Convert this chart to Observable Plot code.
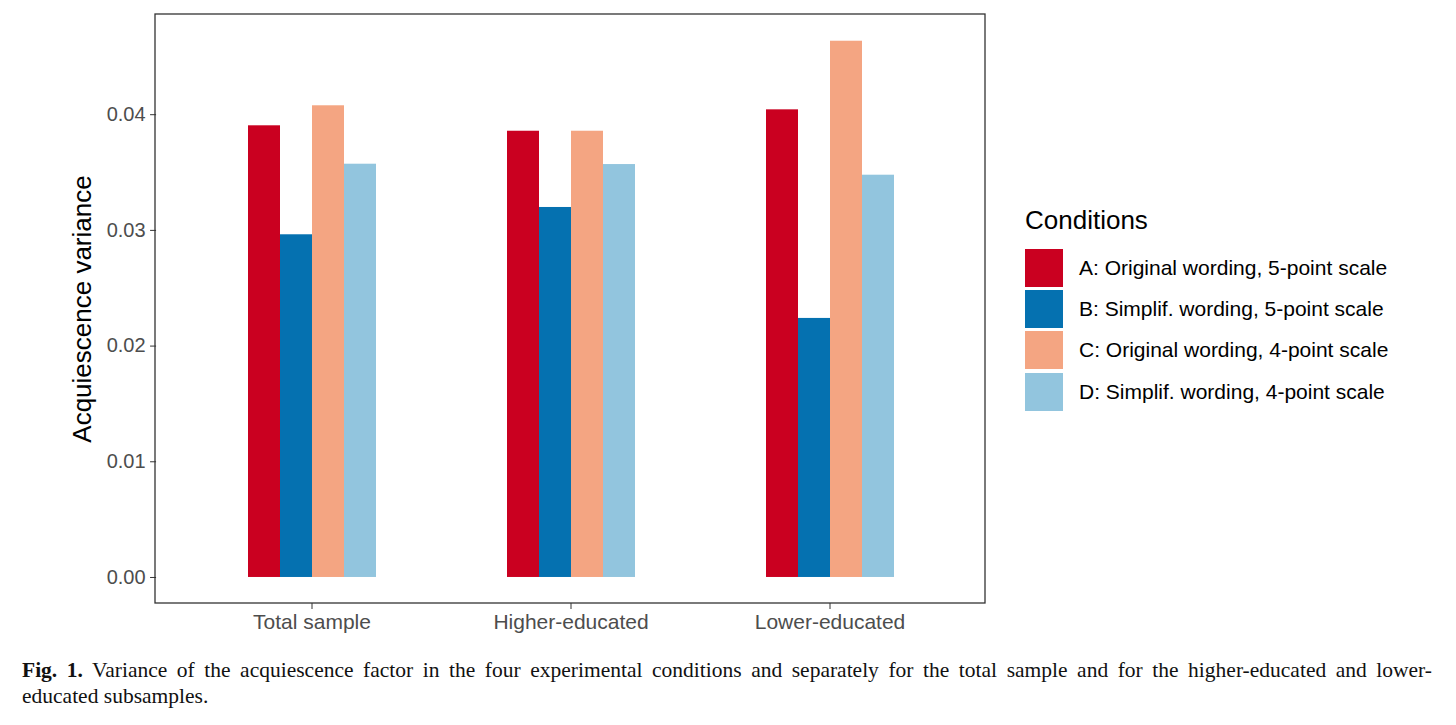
<!DOCTYPE html>
<html>
<head>
<meta charset="utf-8">
<script src="https://cdn.jsdelivr.net/npm/d3@7"></script>
<script src="https://cdn.jsdelivr.net/npm/@observablehq/plot@0.6"></script>
<style>
  body { margin: 0; background: #fff; font-family: "Liberation Sans", Arial, sans-serif; }
  #wrap { position: relative; width: 1456px; height: 725px; overflow: hidden; }
  #chart { position: absolute; left: 0; top: 0; }
  #legend { position: absolute; left: 1025px; top: 203px; }
  #legend .title { font-size: 26px; color: #000; line-height: 34px; margin-bottom: 10px; }
  #legend .row { display: flex; align-items: center; height: 41.3px; }
  #legend .sw { width: 38px; height: 38px; margin-right: 16px; }
  #legend .lab { font-size: 21px; color: #000; }
  #caption { position: absolute; left: 22px; top: 657px; width: 1410px; font-family: "Liberation Serif", serif; font-size: 21.5px; line-height: 26px; color: #111; }
  #caption .l1 { text-align: justify; text-align-last: justify; white-space: nowrap; }
</style>
</head>
<body>
<div id="wrap">
  <div id="chart"></div>
  <div id="legend"></div>
  <div id="caption">
    <div class="l1"><b>Fig. 1.</b> Variance of the acquiescence factor in the four experimental conditions and separately for the total sample and for the higher-educated and lower-</div>
    <div>educated subsamples.</div>
  </div>
</div>
<script>
const groups = ["Total sample", "Higher-educated", "Lower-educated"];
const conditions = ["A: Original wording, 5-point scale", "B: Simplif. wording, 5-point scale", "C: Original wording, 4-point scale", "D: Simplif. wording, 4-point scale"];
const colors = ["#ca0020", "#0571b0", "#f4a582", "#92c5de"];
const valuesA = [0.03904, 0.03857, 0.04042];
const valuesB = [0.02962, 0.03198, 0.02239];
const valuesC = [0.04077, 0.03857, 0.04635];
const valuesD = [0.03572, 0.03569, 0.03477];
const yTicks = [0, 0.01, 0.02, 0.03, 0.04];
const yTitle = "Acquiescence variance";
const legendTitle = "Conditions";

const series = [valuesA, valuesB, valuesC, valuesD];
const data = [];
groups.forEach((g, gi) => conditions.forEach((c, ci) => data.push({group: g, cond: c, value: series[ci][gi]})));

const W = 1456, H = 640, mL = 155, mR = 471, mT = 14, mB = 37;
const fxOuter = 0.1;
// the first facet starts inside the panel; shift the y axis back to the panel edge
const facetOffset = fxOuter * (W - mL - mR) / (groups.length + 2 * fxOuter);

const plot = Plot.plot({
  width: W, height: H,
  marginLeft: mL, marginRight: mR, marginTop: mT, marginBottom: mB,
  style: {fontFamily: "Liberation Sans, Arial, sans-serif", background: "#fff"},
  fx: {domain: groups, paddingInner: 0, paddingOuter: fxOuter, label: null},
  x: {domain: conditions, paddingInner: 0, paddingOuter: 2, axis: null},
  y: {domain: [-0.00225, 0.04866], label: null},
  color: {domain: conditions, range: colors},
  marks: [
    Plot.barY(data, {fx: "group", x: "cond", y: "value", fill: "cond"}),
    Plot.axisY({ticks: yTicks, tickFormat: d3.format(".2f"), tickSize: 6, tickPadding: 5, dx: -facetOffset, fontSize: 20, color: "#4d4d4d", stroke: "#333", label: null}),
    Plot.axisY({ticks: [], label: yTitle, labelAnchor: "center", labelArrow: "none", labelOffset: 84 + facetOffset, fontSize: 26, color: "#000"}),
    Plot.axisFx({anchor: "bottom", tickSize: 6, tickPadding: 5, fontSize: 21, color: "#4d4d4d", stroke: "#333", label: null})
  ]
});
document.getElementById("chart").appendChild(plot);

// panel border around the whole plotting area
d3.select(plot).append("rect")
  .attr("x", mL).attr("y", mT)
  .attr("width", W - mL - mR).attr("height", H - mT - mB)
  .attr("fill", "none").attr("stroke", "#333").attr("stroke-width", 1.3);

// legend from the color scale
const cs = plot.scale("color");
const lg = d3.select("#legend");
lg.append("div").attr("class", "title").text(legendTitle);
cs.domain.forEach((d, i) => {
  const row = lg.append("div").attr("class", "row");
  row.append("div").attr("class", "sw").style("background", cs.range[i]);
  row.append("div").attr("class", "lab").text(d);
});
</script>
</body>
</html>
